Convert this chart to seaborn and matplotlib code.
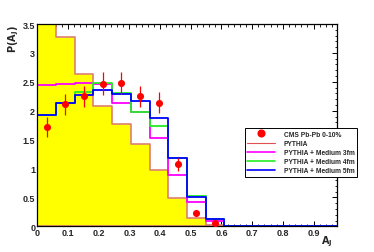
import numpy as np
import pandas as pd
import matplotlib
matplotlib.use("Agg")
import matplotlib.pyplot as plt
from matplotlib.lines import Line2D
from matplotlib.ticker import MultipleLocator
import seaborn as sns

sns.set_style("ticks")
plt.rcParams['font.family'] = ['Liberation Sans', 'DejaVu Sans']
plt.rcParams['mathtext.fontset'] = 'dejavusans'

# ---- data ----
bin_edges = [round(0.0609375 * i, 6) for i in range(17)]
pythia   = [3.80, 3.28, 2.63, 2.09, 1.77, 1.42, 0.98, 0.49, 0.14, 0.03, 0, 0, 0, 0, 0, 0]
medium3  = [2.44, 2.46, 2.48, 2.47, 2.14, 1.97, 1.53, 0.88, 0.42, 0.10, 0, 0, 0, 0, 0, 0]
medium4  = [1.93, 2.14, 2.32, 2.48, 2.30, 1.98, 1.74, 1.19, 0.53, 0.12, 0, 0, 0, 0, 0, 0]
medium5  = [1.92, 2.14, 2.27, 2.35, 2.29, 2.17, 1.88, 1.19, 0.51, 0.12, 0, 0, 0, 0, 0, 0]
cms_vals = [1.72, 2.11, 2.25, 2.47, 2.48, 2.25, 2.14, 1.07, 0.23, 0.05]
cms_errs = [0.18, 0.18, 0.18, 0.20, 0.19, 0.18, 0.18, 0.12, 0.03, 0.02]
labels = ["CMS Pb-Pb 0-10%", "PYTHIA", "PYTHIA + Medium 3fm",
          "PYTHIA + Medium 4fm", "PYTHIA + Medium 5fm"]

edges_arr = np.array(bin_edges)
centers = 0.5 * (edges_arr[:-1] + edges_arr[1:])
cms_x = centers[:len(cms_vals)]

fig = plt.figure(figsize=(3.74, 2.53), dpi=100)
ax = fig.add_axes([0.0997, 0.1016, 0.8003, 0.7994])

c_py = '#dd8070'
c_m3 = '#ff00ff'
c_m4 = '#22ee22'
c_m5 = '#0000ff'
c_cms = '#ff0000'

df_py = pd.DataFrame({"x": centers, "w": pythia})
sns.histplot(data=df_py, x="x", weights="w", bins=bin_edges, element="step", fill=True,
             facecolor='#ffff00', edgecolor=c_py, linewidth=1.2, alpha=1, ax=ax)
for vals, col in [(medium3, c_m3), (medium4, c_m4), (medium5, c_m5)]:
    d = pd.DataFrame({"x": centers, "w": vals})
    sns.histplot(data=d, x="x", weights="w", bins=bin_edges, element="step", fill=False,
                 color=col, linewidth=1.3, ax=ax)

ax.errorbar(cms_x, cms_vals, yerr=cms_errs, fmt='none', ecolor=c_cms, elinewidth=0.9,
            capsize=0, zorder=5)
sns.scatterplot(x=cms_x, y=cms_vals, color=c_cms, s=26, edgecolor=c_cms, linewidth=0,
                ax=ax, zorder=6)

ax.set_xlim(0, 0.975)
ax.set_ylim(0, 3.5)
ax.xaxis.set_minor_locator(MultipleLocator(0.02))
ax.yaxis.set_minor_locator(MultipleLocator(0.1))
ax.set_xticks(np.arange(0, 0.95, 0.1))
ax.set_xticklabels(["0", "0.1", "0.2", "0.3", "0.4", "0.5", "0.6", "0.7", "0.8", "0.9"])
ax.set_yticks(np.arange(0, 3.51, 0.5))
ax.set_yticklabels(["0", "0.5", "1", "1.5", "2", "2.5", "3", "3.5"])
ax.tick_params(which='both', direction='in', top=True, right=True, color='black')
ax.tick_params(which='major', length=3.6, width=0.7, labelsize=6.5, pad=1.5)
ax.tick_params(which='minor', length=1.8, width=0.6)
for lab in ax.get_xticklabels() + ax.get_yticklabels():
    lab.set_fontweight('bold')
for sp in ax.spines.values():
    sp.set_linewidth(0.9)
    sp.set_color('black')
ax.set_xlabel("")
ax.set_ylabel("")

fig.text(0.888, 0.015, r"$\mathbf{A_{J}}$", ha='right', va='bottom', fontsize=7)
fig.text(0.036, 0.90, r"$\mathbf{P(A_{J})}$", ha='center', va='top', rotation=90, fontsize=7)

handles = [
    Line2D([], [], marker='o', linestyle='none', color=c_cms, markersize=4.8),
    Line2D([], [], color='#e05050', linewidth=0.8),
    Line2D([], [], color=c_m3, linewidth=1.2),
    Line2D([], [], color=c_m4, linewidth=1.2),
    Line2D([], [], color=c_m5, linewidth=1.2),
]
leg = fig.legend(handles, labels, loc='upper left', bbox_to_anchor=(0.645, 0.503),
                 fancybox=False, framealpha=1, edgecolor='black',
                 prop={'weight': 'bold', 'size': 4.8}, borderpad=0.4, labelspacing=0.32,
                 handlelength=4.2, handletextpad=1.3)
leg.get_frame().set_linewidth(0.7)

fig.savefig("out.png", dpi=100)
